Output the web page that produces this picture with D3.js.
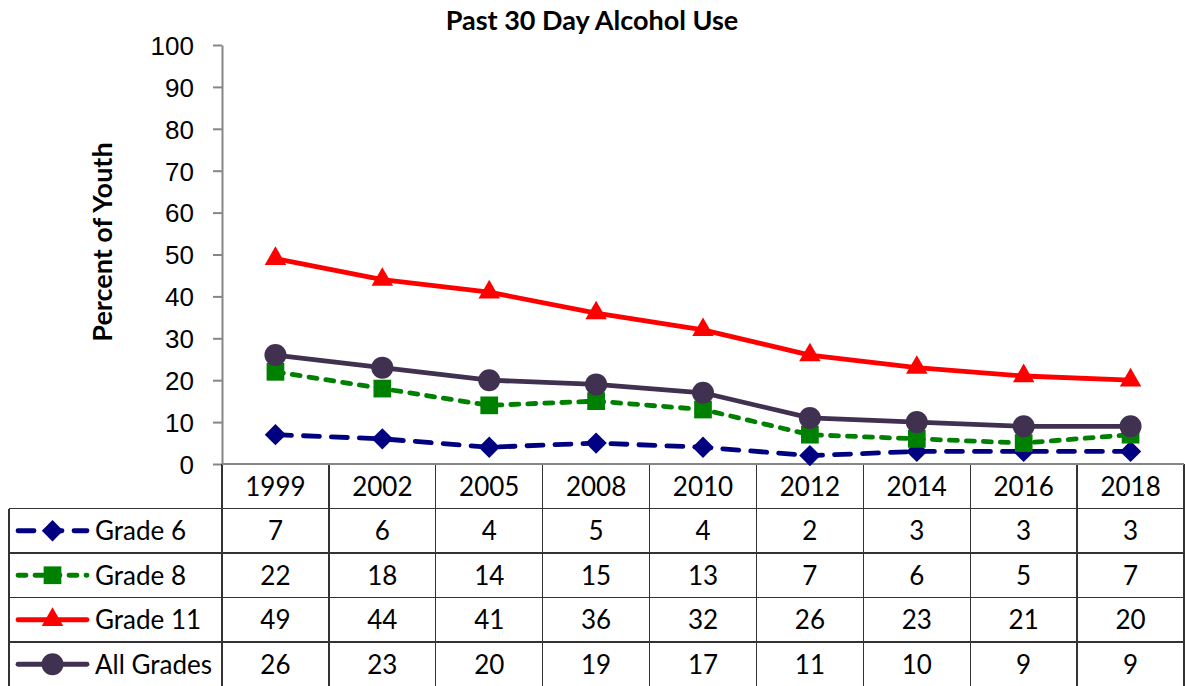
<!DOCTYPE html>
<html>
<head>
<meta charset="utf-8">
<script src="https://cdn.jsdelivr.net/npm/d3@7"></script>
<style>
  body { margin: 0; background: #fff; }
  svg { display: block; font-family: Lato, "Open Sans", sans-serif; }
  .axis .domain { stroke: #868686; stroke-width: 2; }
  .axis .tick line { stroke: #868686; stroke-width: 2; }
  .axis .tick text { fill: #000; font-size: 26px; }
</style>
</head>
<body>
<div id="chart"></div>
<script>
var years = ['1999', '2002', '2005', '2008', '2010', '2012', '2014', '2016', '2018'];
var grade6 = [7, 6, 4, 5, 4, 2, 3, 3, 3];
var grade8 = [22, 18, 14, 15, 13, 7, 6, 5, 7];
var grade11 = [49, 44, 41, 36, 32, 26, 23, 21, 20];
var allGrades = [26, 23, 20, 19, 17, 11, 10, 9, 9];
var seriesNames = ['Grade 6', 'Grade 8', 'Grade 11', 'All Grades'];
var yTicks = [0, 10, 20, 30, 40, 50, 60, 70, 80, 90, 100];

var series = [
  {name: seriesNames[0], values: grade6, color: '#000080', dash: '16,12', symbol: d3.symbolDiamond2, size: 290},
  {name: seriesNames[1], values: grade8, color: '#008000', dash: '8,9', symbol: d3.symbolSquare2, size: 400},
  {name: seriesNames[2], values: grade11, color: '#ff0000', dash: null, symbol: d3.symbolTriangle2, size: 330},
  {name: seriesNames[3], values: allGrades, color: '#403151', dash: null, symbol: d3.symbolCircle, size: 380}
];

var width = 1185, height = 686;
var plotLeft = 222, plotRight = 1184, plotTop = 45, plotBottom = 464;
var tableLeft = 9, tableBottom = 686.5;

var svg = d3.select('#chart').append('svg')
  .attr('width', width)
  .attr('height', height);

var x = d3.scaleBand().domain(years).range([plotLeft, plotRight]).padding(0);
var y = d3.scaleLinear().domain([0, 100]).range([plotBottom, plotTop]);
var rows = d3.scaleBand().domain(['header'].concat(seriesNames)).range([plotBottom, tableBottom]);

// title
svg.append('text')
  .attr('x', 592)
  .attr('y', 30)
  .attr('text-anchor', 'middle')
  .style('font-size', '27px')
  .style('font-weight', 'bold')
  .text('Past 30 Day Alcohol Use');

// y axis label
svg.append('text')
  .attr('transform', 'translate(112,242) rotate(-90)')
  .attr('text-anchor', 'middle')
  .style('font-size', '27px')
  .style('font-weight', 'bold')
  .text('Percent of Youth');

// y axis
var yAxis = svg.append('g')
  .attr('class', 'axis')
  .attr('transform', 'translate(' + plotLeft + ',0)')
  .call(d3.axisLeft(y).tickValues(yTicks).tickSize(9).tickSizeOuter(0).tickPadding(19));
yAxis.selectAll('.tick text').attr('dy', '0.36em');

// table grid
var grid = svg.append('g').attr('stroke', '#333').attr('stroke-width', 1.3).attr('shape-rendering', 'crispEdges');
// vertical lines
years.forEach(function(yr) {
  grid.append('line')
    .attr('x1', x(yr)).attr('x2', x(yr))
    .attr('y1', plotBottom).attr('y2', tableBottom);
});
grid.append('line')
  .attr('x1', plotRight).attr('x2', plotRight)
  .attr('y1', plotBottom).attr('y2', tableBottom);
grid.append('line')
  .attr('x1', tableLeft).attr('x2', tableLeft)
  .attr('y1', rows(seriesNames[0])).attr('y2', tableBottom);
// horizontal lines
seriesNames.forEach(function(n) {
  grid.append('line')
    .attr('x1', tableLeft).attr('x2', plotRight)
    .attr('y1', rows(n)).attr('y2', rows(n));
});
// x axis line (top of table)
svg.append('line')
  .attr('x1', plotLeft).attr('x2', plotRight)
  .attr('y1', plotBottom).attr('y2', plotBottom)
  .attr('stroke', '#868686').attr('stroke-width', 2);

// header years
svg.append('g').selectAll('text')
  .data(years)
  .enter().append('text')
  .attr('x', function(d) { return x(d) + x.bandwidth() / 2; })
  .attr('y', rows('header') + rows.bandwidth() / 2)
  .attr('dy', '0.36em')
  .attr('text-anchor', 'middle')
  .style('font-size', '26px')
  .text(function(d) { return d; });

// lines and markers
var line = d3.line()
  .x(function(d, i) { return x(years[i]) + x.bandwidth() / 2; })
  .y(function(d) { return y(d); });

series.forEach(function(s) {
  svg.append('path')
    .datum(s.values)
    .attr('d', line)
    .attr('fill', 'none')
    .attr('stroke', s.color)
    .attr('stroke-width', 4.8)
    .attr('stroke-linecap', 'round')
    .attr('stroke-linejoin', 'round')
    .attr('stroke-dasharray', s.dash);
});

series.forEach(function(s) {
  var sym = d3.symbol().type(s.symbol).size(s.size);
  svg.append('g').selectAll('path')
    .data(s.values)
    .enter().append('path')
    .attr('d', sym)
    .attr('fill', s.color)
    .attr('transform', function(d, i) {
      return 'translate(' + (x(years[i]) + x.bandwidth() / 2) + ',' + y(d) + ')';
    });
});

// table rows: legend keys and values
series.forEach(function(s) {
  var cy = rows(s.name) + rows.bandwidth() / 2;
  var g = svg.append('g');
  g.append('line')
    .attr('x1', 18).attr('x2', 87)
    .attr('y1', cy).attr('y2', cy)
    .attr('stroke', s.color)
    .attr('stroke-width', 4.8)
    .attr('stroke-linecap', 'round')
    .attr('stroke-dasharray', s.dash);
  g.append('path')
    .attr('d', d3.symbol().type(s.symbol).size(s.size))
    .attr('fill', s.color)
    .attr('transform', 'translate(52.5,' + cy + ')');
  g.append('text')
    .attr('x', 95)
    .attr('y', cy)
    .attr('dy', '0.36em')
    .style('font-size', '26px')
    .text(s.name);
  g.selectAll('text.val')
    .data(s.values)
    .enter().append('text')
    .attr('class', 'val')
    .attr('x', function(d, i) { return x(years[i]) + x.bandwidth() / 2; })
    .attr('y', cy)
    .attr('dy', '0.36em')
    .attr('text-anchor', 'middle')
    .style('font-size', '26px')
    .text(function(d) { return d; });
});
</script>
</body>
</html>
